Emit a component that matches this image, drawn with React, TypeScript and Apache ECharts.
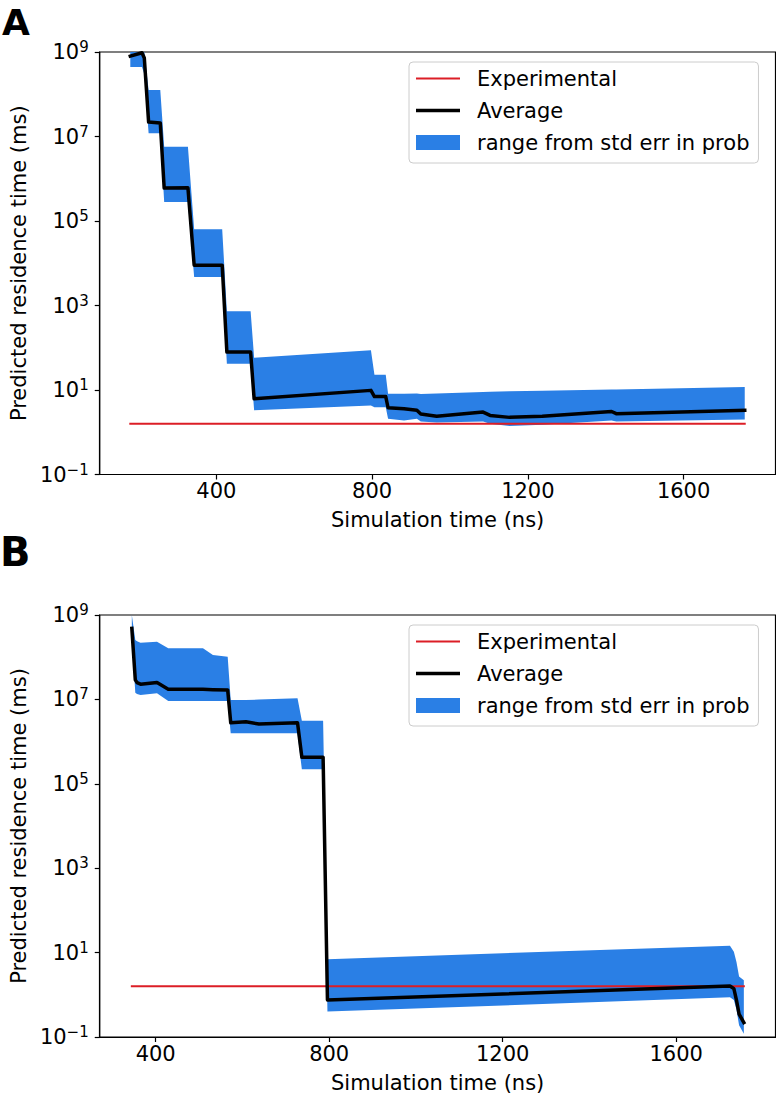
import React, { useEffect, useRef } from 'react';
import * as echarts from 'echarts';

const FONT = 'DejaVu Sans';
const BLUE = '#2a7fe5';
const RED = '#dc1e26';

// shared
const EXPERIMENTAL = 1.6;
const xTickValues = [400, 800, 1200, 1600];
const yTickValues = [0.1, 10, 1e3, 1e5, 1e7, 1e9];
const yMinorValues: number[] = [];
for (let k = -1; k <= 8; k++) {
  if (k >= 0 && k % 2 === 0) yMinorValues.push(Math.pow(10, k));
  for (let m = 2; m <= 9; m++) yMinorValues.push(m * Math.pow(10, k));
}
const legendNames = ['Experimental', 'Average', 'range from std err in prob'];

// Panel A
const timeA = [179, 209, 215, 226, 256, 266, 327, 343, 415, 427, 488, 497, 797, 806, 835, 841, 882, 915, 925, 966, 1085, 1103, 1153, 1237, 1415, 1427, 1757];
const avgA = [8.0e8, 9.6e8, 7.2e8, 2.2e7, 2.1e7, 6.0e5, 6.1e5, 9.0e3, 9.0e3, 79, 79, 6.2, 9.8, 7.0, 7.0, 3.8, 3.6, 3.3, 2.7, 2.4, 3.0, 2.5, 2.25, 2.4, 3.1, 2.75, 3.3];
const loA = [4.4e8, 4.4e8, 3.0e8, 1.2e7, 1.2e7, 2.8e5, 2.8e5, 4.7e3, 4.7e3, 42, 42, 3.3, 4.3, 3.9, 3.9, 2.1, 1.9, 2.1, 1.8, 1.7, 1.8, 1.6, 1.4, 1.5, 1.9, 1.8, 2.0];
const hiA = [1.4e9, 1.5e9, 1.5e9, 1.26e8, 1.26e8, 5.7e6, 5.7e6, 6.4e4, 6.4e4, 730, 730, 58, 87, 23, 23, 8.2, 8.2, 8.3, 8.0, 8.3, 9.0, 9.1, 9.3, 9.6, 10.3, 10.3, 11.7];

// Panel B
const timeB = [345, 353, 357, 365, 403, 429, 509, 532, 566, 573, 608, 638, 727, 737, 786, 796, 1724, 1733, 1739, 1745, 1756];
const avgB = [4.8e8, 2.9e7, 2.5e7, 2.3e7, 2.5e7, 1.73e7, 1.73e7, 1.7e7, 1.67e7, 2.8e6, 2.96e6, 2.6e6, 2.8e6, 4.25e5, 4.25e5, 0.75, 1.62, 1.4, 0.75, 0.35, 0.22];
const loB = [3.0e8, 1.44e7, 1.35e7, 1.27e7, 1.4e7, 9.2e6, 9.2e6, 9.2e6, 9.2e6, 1.57e6, 1.57e6, 1.57e6, 1.57e6, 2.2e5, 2.2e5, 0.40, 0.87, 0.75, 0.45, 0.19, 0.12];
const hiB = [5e9, 2.56e8, 2.4e8, 2.2e8, 2.33e8, 1.63e8, 1.63e8, 1.13e8, 1.03e8, 9.7e6, 9.7e6, 9.9e6, 1.06e7, 3.1e6, 3.1e6, 7.0, 14.6, 10.5, 6.0, 2.7, 2.2];

const GRID_LEFT = 92.5;
const GRID_W = 683;

function supLabel(v: number) {
  const e = Math.round(Math.log10(v));
  const s = e < 0 ? '\u2212' + String(-e) : String(e);
  return `{b|10}{s|${s}}`;
}

function xAxis(gridIndex: number, min: number, max: number) {
  return {
    type: 'value', gridIndex, min, max,
    name: 'Simulation time (ns)', nameLocation: 'middle', nameGap: 35,
    nameTextStyle: { fontSize: 21, fontFamily: FONT, color: '#000' },
    axisLine: { show: true, onZero: false, lineStyle: { color: '#000', width: 1.2 } },
    axisTick: { show: true, length: 5, customValues: xTickValues, lineStyle: { color: '#000', width: 1.2 } },
    axisLabel: {
      show: true, customValues: xTickValues, fontSize: 21, fontFamily: FONT, color: '#000', margin: 6,
      formatter: (v: number) => String(Math.round(v)),
    },
    splitLine: { show: false },
  };
}

function yAxisMajor(gridIndex: number) {
  return {
    type: 'log', logBase: 10, gridIndex, min: 0.1, max: 1e9,
    name: 'Predicted residence time (ms)', nameLocation: 'middle', nameGap: 64, nameRotate: 90,
    nameTextStyle: { fontSize: 21, fontFamily: FONT, color: '#000' },
    axisLine: { show: true, lineStyle: { color: '#000', width: 1.2 } },
    axisTick: { show: true, length: 5, customValues: yTickValues, lineStyle: { color: '#000', width: 1.2 } },
    axisLabel: {
      show: true, customValues: yTickValues, margin: 11, color: '#000',
      formatter: (v: number) => supLabel(v),
      rich: {
        b: { fontSize: 21, fontFamily: FONT, color: '#000' },
        s: { fontSize: 15, fontFamily: FONT, color: '#000', padding: [0, 0, 10, 0] },
      },
    },
    splitLine: { show: false },
  };
}

function yAxisMinor(gridIndex: number) {
  return {
    type: 'log', logBase: 10, gridIndex, min: 0.1, max: 1e9,
    axisLine: { show: false },
    axisLabel: { show: false },
    axisTick: { show: true, length: 3, customValues: yMinorValues, lineStyle: { color: '#000', width: 1 } },
    splitLine: { show: false },
  };
}

function bandSeries(xIdx: number, yIdx: number, times: number[], lo: number[], hi: number[]) {
  return {
    type: 'custom', name: legendNames[2], xAxisIndex: xIdx, yAxisIndex: yIdx, clip: true, silent: true,
    itemStyle: { color: BLUE }, z: 2,
    data: times.map((t, i) => [t, lo[i], hi[i]]),
    encode: { x: 0, y: [1, 2] },
    renderItem: (params: any, api: any) => {
      if (params.dataIndex !== 0) return null;
      const cs = params.coordSys;
      const clampY = (p: number[]) => [p[0], Math.max(cs.y, Math.min(cs.y + cs.height, p[1]))];
      const upper = times.map((t, i) => clampY(api.coord([t, hi[i]])));
      const lower = times.map((t, i) => clampY(api.coord([t, lo[i]]))).reverse();
      return { type: 'polygon', shape: { points: upper.concat(lower) }, style: { fill: BLUE } };
    },
  };
}

function lineSeries(name: string, xIdx: number, yIdx: number, data: number[][], color: string, width: number, z: number) {
  return {
    type: 'line', name, xAxisIndex: xIdx, yAxisIndex: yIdx, data, symbol: 'none', showSymbol: false, silent: true, z,
    itemStyle: { color },
    lineStyle: { color, width, join: 'round', cap: 'square' },
  };
}

function legend(top: number) {
  return {
    show: true, orient: 'vertical', left: 409, top, padding: [6, 9, 10, 7], itemGap: 11,
    itemWidth: 44, itemHeight: 15, selectedMode: false, symbolKeepAspect: true,
    backgroundColor: 'rgba(255,255,255,0.8)', borderColor: '#cccccc', borderWidth: 1, borderRadius: 4,
    textStyle: { fontSize: 21, fontFamily: FONT, color: '#000', lineHeight: 21, padding: [0, 0, 0, 12] },
    data: [
      { name: legendNames[0], icon: 'path://M0,0H44V2H0Z', itemStyle: { color: RED, borderWidth: 0 } },
      { name: legendNames[1], icon: 'path://M0,0H44V3.5H0Z', itemStyle: { color: '#000', borderWidth: 0 } },
      { name: legendNames[2], icon: 'rect', itemStyle: { color: BLUE, borderWidth: 0 } },
    ],
  };
}

export default function App() {
  const ref = useRef<HTMLDivElement>(null);
  useEffect(() => {
    if (!ref.current) return;
    const chart = echarts.init(ref.current, null, { renderer: 'svg' });
    const option: any = {
      animation: false,
      backgroundColor: '#ffffff',
      textStyle: { fontFamily: FONT },
      grid: [
        { left: GRID_LEFT, top: 52, width: GRID_W, height: 422.5, show: true, borderColor: '#000', borderWidth: 1.2 },
        { left: GRID_LEFT, top: 615, width: GRID_W, height: 422, show: true, borderColor: '#000', borderWidth: 1.2 },
      ],
      xAxis: [xAxis(0, 100.5, 1836), xAxis(1, 271, 1829)],
      yAxis: [yAxisMajor(0), yAxisMinor(0), yAxisMajor(1), yAxisMinor(1)],
      legend: [legend(62), legend(625)],
      graphic: [
        { type: 'text', left: 2, top: 4, style: { text: 'A', fontSize: 36, fontWeight: 'bold', fontFamily: FONT, fill: '#000' } },
        { type: 'text', left: 0, top: 532, style: { text: 'B', fontSize: 40, fontWeight: 'bold', fontFamily: FONT, fill: '#000' } },
      ],
      series: [
        bandSeries(0, 0, timeA, loA, hiA),
        lineSeries(legendNames[0], 0, 0, [[timeA[0], EXPERIMENTAL], [timeA[timeA.length - 1], EXPERIMENTAL]], RED, 2, 3),
        lineSeries(legendNames[1], 0, 0, timeA.map((t, i) => [t, avgA[i]]), '#000', 3.5, 4),
        bandSeries(1, 2, timeB, loB, hiB),
        lineSeries(legendNames[0], 1, 2, [[timeB[0], EXPERIMENTAL], [timeB[timeB.length - 1], EXPERIMENTAL]], RED, 2, 3),
        lineSeries(legendNames[1], 1, 2, timeB.map((t, i) => [t, avgB[i]]), '#000', 3.5, 4),
      ],
    };
    chart.setOption(option);
    return () => chart.dispose();
  }, []);
  return <div ref={ref} style={{ position: 'absolute', left: 0, top: 0, width: 776, height: 1094 }} />;
}
